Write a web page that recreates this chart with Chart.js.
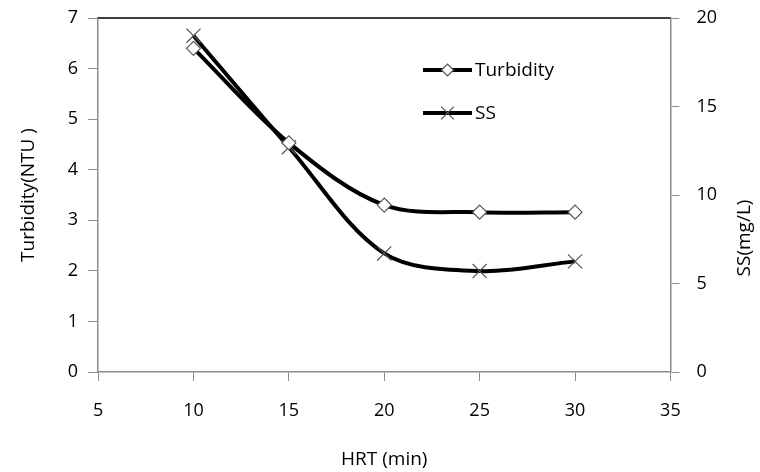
<!DOCTYPE html>
<html>
<head>
<meta charset="utf-8">
<script src="https://cdn.jsdelivr.net/npm/chart.js@4"></script>
<style>
  html, body { margin: 0; padding: 0; background: #fff; }
  #wrap { width: 760px; height: 472px; }
</style>
</head>
<body>
<div id="wrap"><canvas id="chart"></canvas></div>
<script>
const hrt = [10, 15, 20, 25, 30];
const turbidity = [6.4, 4.53, 3.3, 3.16, 3.16];
const ss = [19.0, 12.7, 6.7, 5.7, 6.25];

const family = "'Open Sans', 'Noto Sans', sans-serif";
const tickFont = { family: family, size: 18 };
const titleFont = { family: family, size: 19 };
const axisGray = "#8c8c8c";

// legend inside the plot area, black top border, right-axis title read bottom-up
const extras = {
  id: "extras",
  afterDraw(chart) {
    const ctx = chart.ctx;
    const area = chart.chartArea;
    ctx.save();
    ctx.strokeStyle = "#000";
    ctx.lineWidth = 1.5;
    ctx.beginPath();
    ctx.moveTo(area.left, area.top);
    ctx.lineTo(area.right, area.top);
    ctx.stroke();

    const rows = [70, 113];
    chart.data.datasets.forEach((ds, i) => {
      const y = rows[i];
      const x0 = 423, x1 = 472;
      ctx.strokeStyle = "#000";
      ctx.lineWidth = 4;
      ctx.beginPath();
      ctx.moveTo(x0, y);
      ctx.lineTo(x1, y);
      ctx.stroke();
      ctx.fillStyle = ds.pointBackgroundColor;
      ctx.strokeStyle = ds.pointBorderColor;
      ctx.lineWidth = ds.pointBorderWidth;
      Chart.helpers.drawPoint(ctx, {
        pointStyle: ds.pointStyle,
        radius: ds.pointRadius - 1,
        borderWidth: ds.pointBorderWidth,
      }, (x0 + x1) / 2, y);
      ctx.fillStyle = "#000";
      ctx.font = titleFont.size + "px " + family;
      ctx.textBaseline = "middle";
      ctx.textAlign = "left";
      ctx.fillText(ds.label, x1 + 3, y + 1);
    });

    ctx.translate(745, 238);
    ctx.rotate(-Math.PI / 2);
    ctx.textAlign = "center";
    ctx.textBaseline = "middle";
    ctx.fillStyle = "#000";
    ctx.font = titleFont.size + "px " + family;
    ctx.fillText("SS(mg/L)", 0, 0);
    ctx.restore();
  },
};

// the tick padding would otherwise push the plot top down
const noVertPad = (s) => { s.paddingTop = 0; s.paddingBottom = 0; };

new Chart(document.getElementById("chart"), {
  type: "line",
  data: {
    datasets: [
      {
        label: "Turbidity",
        data: hrt.map((x, i) => ({ x: x, y: turbidity[i] })),
        yAxisID: "y",
        borderColor: "#000",
        borderWidth: 4,
        tension: 0.33,
        pointStyle: "rectRot",
        pointRadius: 7,
        pointBorderWidth: 1.2,
        pointBackgroundColor: "#fff",
        pointBorderColor: "#555",
      },
      {
        label: "SS",
        data: hrt.map((x, i) => ({ x: x, y: ss[i] })),
        yAxisID: "y2",
        borderColor: "#000",
        borderWidth: 4,
        tension: 0.33,
        pointStyle: "crossRot",
        pointRadius: 10,
        pointBorderWidth: 1.2,
        pointBackgroundColor: "#fff",
        pointBorderColor: "#555",
      },
    ],
  },
  options: {
    responsive: true,
    maintainAspectRatio: false,
    animation: false,
    layout: { padding: { left: 13, right: 26, top: 18, bottom: 0 } },
    plugins: {
      legend: { display: false },
      tooltip: { enabled: false },
    },
    scales: {
      x: {
        type: "linear",
        min: 5,
        max: 35,
        ticks: { stepSize: 5, color: "#000", font: tickFont, padding: 19 },
        grid: { drawOnChartArea: false, tickLength: 9, color: axisGray },
        border: { color: axisGray, width: 1.5 },
        title: { display: true, text: "HRT (min)", color: "#000", font: titleFont, padding: { top: 13, bottom: 1 } },
        afterFit: (s) => { s.height = 100; },
      },
      y: {
        position: "left",
        min: 0,
        max: 7,
        ticks: { stepSize: 1, color: "#000", font: tickFont, padding: 10 },
        grid: { drawOnChartArea: false, tickLength: 10, color: axisGray },
        border: { color: axisGray, width: 1.5 },
        title: { display: true, text: "Turbidity(NTU )", color: "#000", font: titleFont, padding: { bottom: 18 } },
        afterFit: noVertPad,
      },
      y2: {
        position: "right",
        min: 0,
        max: 20,
        ticks: { stepSize: 5, color: "#000", font: tickFont, padding: 17 },
        grid: { drawOnChartArea: false, tickLength: 9, color: axisGray },
        border: { color: axisGray, width: 1.5 },
        afterFit: noVertPad,
      },
    },
  },
  plugins: [extras],
});
</script>
</body>
</html>
